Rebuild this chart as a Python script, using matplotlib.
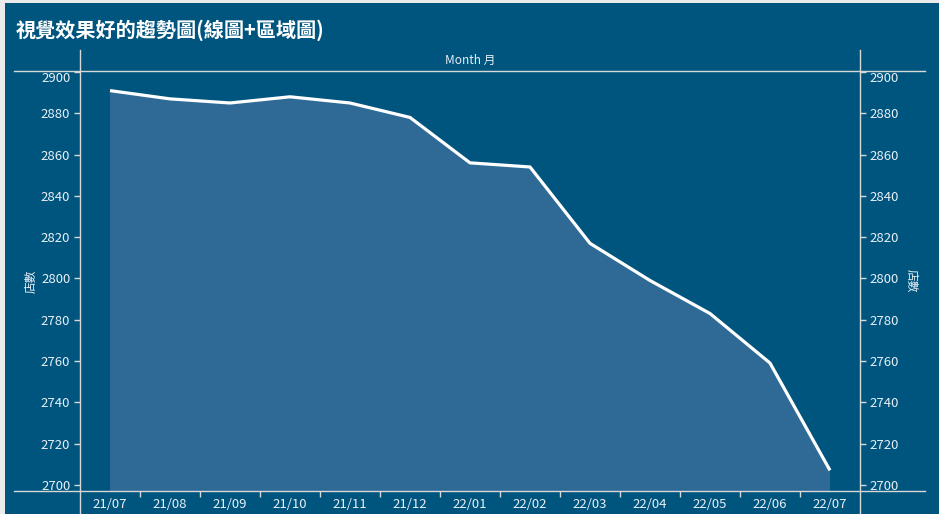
import matplotlib
matplotlib.use("Agg")
import matplotlib.pyplot as plt
from matplotlib.lines import Line2D
from matplotlib.patches import Rectangle

plt.rcParams['font.family'] = ['Noto Sans CJK TC', 'DejaVu Sans']

# datos
months = ["21/07", "21/08", "21/09", "21/10", "21/11", "21/12", "22/01",
          "22/02", "22/03", "22/04", "22/05", "22/06", "22/07"]
stores = [2891, 2887, 2885, 2888, 2885, 2878, 2856,
          2854, 2817, 2799, 2783, 2759, 2707]
yticks = list(range(2700, 2901, 20))

bg = "#00557F"
fill_c = "#2F6A96"
line_c = "#D8D8D8"
txt_c = "#E8F0F6"

W, H = 939, 514
fig = plt.figure(figsize=(W / 100, H / 100), dpi=100)
fig.patch.set_facecolor("#EBEBEB")
fig.add_artist(Rectangle((5 / W, 0), 1, 1 - 3 / H, transform=fig.transFigure,
                         facecolor=bg, edgecolor="none", zorder=-10))

ax = fig.add_axes([80 / W, 1 - 491 / H, 780 / W, 420 / H])
ax.set_facecolor(bg)
x = list(range(len(months)))
ax.fill_between(x, stores, 2600, color=fill_c, lw=0)
ax.plot(x, stores, color="white", lw=2.3, solid_capstyle="butt")
ax.set_xlim(-0.5, len(months) - 0.5)
ax.set_ylim(2697, 2900.5)

ax.set_xticks(x)
ax.set_xticklabels(months)
ax.set_xticks([i + 0.5 for i in x[:-1]], minor=True)
ax.tick_params(axis="x", which="major", length=0, labelsize=9.5, labelcolor=txt_c, pad=5)
ax.tick_params(axis="x", which="minor", length=4, color=line_c, width=1)

ax.set_yticks(yticks)
ax.tick_params(axis="y", which="major", length=4, color=line_c, width=1,
               labelsize=9.5, labelcolor=txt_c, left=True, right=True,
               labelleft=True, labelright=True, pad=3)
# la etiqueta de arriba (2900) queda un poco mas abajo, como en tableau
top_tick = ax.yaxis.get_major_ticks()[-1]
top_tick.label1.set_va("top")
top_tick.label2.set_va("top")
for s in ax.spines.values():
    s.set_visible(False)

# lineas de encabezado estilo tableau
fig.add_artist(Line2D([14 / W, 925 / W], [1 - 71 / H] * 2, color=line_c, lw=1))
fig.add_artist(Line2D([14 / W, 925 / W], [1 - 491 / H] * 2, color=line_c, lw=1))
fig.add_artist(Line2D([80 / W] * 2, [0, 1 - 50 / H], color=line_c, lw=1))
fig.add_artist(Line2D([860 / W] * 2, [0, 1 - 50 / H], color=line_c, lw=1))

fig.text(16 / W, 1 - 30 / H, "視覺效果好的趨勢圖(線圖+區域圖)", color="white",
         fontsize=14.5, fontweight="bold", va="center", ha="left")
fig.text(470 / W, 1 - 60 / H, "Month 月", color=txt_c, fontsize=8.5,
         ha="center", va="center")
fig.text(31 / W, 1 - 281 / H, "店數", color=txt_c, fontsize=8.5,
         rotation=90, ha="center", va="center")
fig.text(911 / W, 1 - 281 / H, "店數", color=txt_c, fontsize=8.5,
         rotation=-90, ha="center", va="center")

fig.savefig("out.png", dpi=100, facecolor=fig.get_facecolor())
